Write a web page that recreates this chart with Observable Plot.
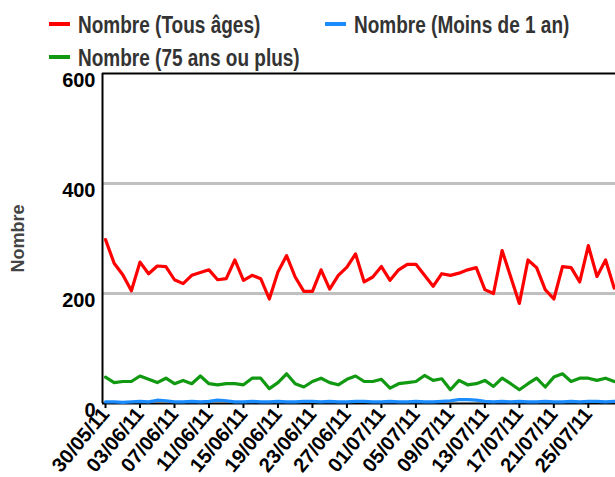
<!DOCTYPE html>
<html>
<head>
<meta charset="utf-8">
<script src="https://cdn.jsdelivr.net/npm/d3@7"></script>
<script src="https://cdn.jsdelivr.net/npm/@observablehq/plot@0.6"></script>
<style>
  body { margin: 0; background: #fff; font-family: "Liberation Sans", Arial, sans-serif; }
  #legend { position: relative; width: 615px; height: 60px; font-weight: bold; font-size: 19px; color: #333; }
  #legend .sw { position: absolute; width: 21px; height: 4px; }
  #legend .lab { position: absolute; line-height: 19px; white-space: nowrap; transform: scaleY(1.25); transform-origin: left center; }
  svg text { font-family: "Liberation Sans", Arial, sans-serif; font-weight: bold; }
</style>
</head>
<body>
<div id="legend"></div>
<div id="chart"></div>
<script>
// ---- data ----
const seriesNames = ["Nombre (Tous âges)", "Nombre (Moins de 1 an)", "Nombre (75 ans ou plus)"];
const seriesColors = ["#ff0000", "#1a8cff", "#119911"];

const tousAges = [298, 255, 234, 205, 257, 236, 250, 249, 225, 218,
                  233, 238, 243, 225, 227, 261, 224, 233, 227, 190,
                  239, 269, 230, 204, 204, 243, 208, 233, 248, 272,
                  221, 230, 249, 224, 243, 253, 253, 233, 213, 236,
                  233, 237, 243, 247, 207, 200, 278, 230, 182, 261,
                  247, 207, 190, 249, 247, 221, 287, 231, 261, 210];
const moins1an = [3, 3, 2, 3, 4, 3, 6, 5, 3, 3,
                  4, 3, 4, 6, 5, 3, 3, 4, 3, 3,
                  4, 3, 3, 4, 4, 3, 4, 3, 3, 4,
                  4, 3, 3, 4, 3, 3, 4, 3, 3, 4,
                  5, 7, 7, 6, 4, 3, 4, 3, 4, 3,
                  3, 4, 3, 3, 4, 3, 4, 4, 3, 4];
const plus75 = [48, 38, 40, 40, 50, 44, 38, 46, 36, 42,
                36, 50, 36, 34, 36, 36, 34, 46, 46, 27,
                38, 54, 36, 30, 40, 46, 38, 34, 44, 50,
                40, 40, 44, 28, 36, 38, 40, 51, 42, 45,
                25, 42, 34, 36, 42, 31, 46, 36, 25, 36,
                46, 30, 48, 54, 40, 46, 46, 42, 46, 40];
const tickLabels = ["30/05/11", "03/06/11", "07/06/11", "11/06/11", "15/06/11",
                    "19/06/11", "23/06/11", "27/06/11", "01/07/11", "05/07/11",
                    "09/07/11", "13/07/11", "17/07/11", "21/07/11", "25/07/11"];
const yTicks = [0, 200, 400, 600];

// ---- build table ----
const parse = d3.utcParse("%d/%m/%y");
const firstDay = parse(tickLabels[0]);
const days = tousAges.map((_, i) => d3.utcDay.offset(firstDay, i));
const rows = [];
[tousAges, moins1an, plus75].forEach((vals, s) => {
  vals.forEach((v, i) => rows.push({date: days[i], value: v, series: seriesNames[s]}));
});
const tickDates = tickLabels.map(parse);
const dayMs = 864e5;
const x0 = new Date(+firstDay - 0.35 * dayMs);
const x1 = new Date(+firstDay + 59.15 * dayMs);

// ---- legend ----
const legend = document.getElementById("legend");
const legendPos = [[49, 24], [325, 24], [49, 57]];
seriesNames.forEach((name, s) => {
  const [lx, ly] = legendPos[s];
  const sw = document.createElement("div");
  sw.className = "sw";
  sw.style.left = lx + "px"; sw.style.top = (ly - 2) + "px";
  sw.style.background = seriesColors[s];
  legend.appendChild(sw);
  const lab = document.createElement("div");
  lab.className = "lab";
  lab.textContent = name;
  lab.style.left = (lx + 29) + "px"; lab.style.top = (ly - 9) + "px";
  legend.appendChild(lab);
});

// ---- chart ----
const chart = Plot.plot({
  width: 615,
  height: 417,
  marginLeft: 102,
  marginRight: 0,
  marginTop: 13,
  marginBottom: 74,
  style: {background: "white", overflow: "visible"},
  x: {type: "utc", domain: [x0, x1]},
  y: {domain: [0, 600]},
  color: {domain: seriesNames, range: seriesColors},
  marks: [
    Plot.gridY([200, 400], {stroke: "#c0c0c0", strokeOpacity: 1, strokeWidth: 3}),
    Plot.axisY({ticks: yTicks, tickSize: 0, tickPadding: 7, dy: 7, fontSize: 20, fill: "black", label: null}),
    Plot.axisX({ticks: tickDates, tickFormat: d3.utcFormat("%d/%m/%y"), tickSize: 5, tickPadding: 2,
                tickRotate: -50, fontSize: 20, fill: "black", stroke: "black", strokeWidth: 2, label: null}),
    Plot.ruleY([0], {stroke: "black", strokeWidth: 2}),
    Plot.ruleY([600], {stroke: "black", strokeWidth: 2}),
    Plot.ruleX([x0], {stroke: "black", strokeWidth: 2}),
    Plot.line(rows, {x: "date", y: "value", z: "series", stroke: "series", strokeWidth: 3.2}),
    Plot.text(["Nombre"], {frameAnchor: "left", dx: -84, rotate: -90, textAnchor: "middle",
                           fontSize: 18, fill: "#444", fontWeight: "bold"})
  ]
});
document.getElementById("chart").appendChild(chart);
</script>
</body>
</html>
